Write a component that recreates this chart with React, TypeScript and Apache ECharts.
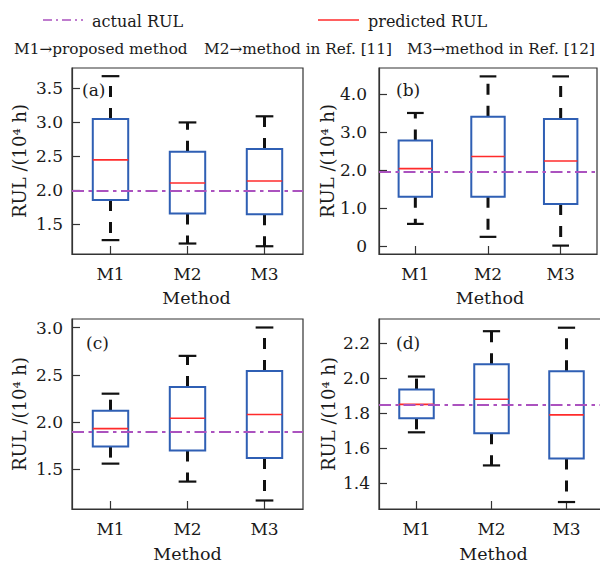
import React, { useEffect, useRef } from "react";
import * as echarts from "echarts";

// Methods on the x axis
const categories = ["M1", "M2", "M3"];

// Box statistics per method: [lower whisker, Q1, median, Q3, upper whisker] (10^4 h)
const boxesA = [
  [1.27, 1.86, 2.45, 3.05, 3.68],
  [1.22, 1.66, 2.11, 2.57, 3.0],
  [1.18, 1.65, 2.14, 2.61, 3.09],
];
const boxesB = [
  [0.59, 1.3, 2.04, 2.78, 3.5],
  [0.25, 1.3, 2.36, 3.4, 4.46],
  [0.02, 1.11, 2.24, 3.34, 4.46],
];
const boxesC = [
  [1.56, 1.74, 1.93, 2.12, 2.3],
  [1.37, 1.7, 2.04, 2.37, 2.7],
  [1.17, 1.62, 2.08, 2.54, 3.0],
];
const boxesD = [
  [1.69, 1.77, 1.85, 1.935, 2.01],
  [1.5, 1.685, 1.88, 2.08, 2.27],
  [1.29, 1.54, 1.79, 2.04, 2.29],
];

// Actual RUL of each case
const actualRUL = [2.0, 1.95, 1.9, 1.85];

// Y tick values of each panel
const ticksA = [1.5, 2.0, 2.5, 3.0, 3.5];
const ticksB = [0, 1, 2, 3, 4];
const ticksC = [1.5, 2.0, 2.5, 3.0];
const ticksD = [1.4, 1.6, 1.8, 2.0, 2.2];

// Y ranges of each panel
const rangeA = [1.066, 3.8];
const rangeB = [-0.2, 4.68];
const rangeC = [1.08, 3.09];
const rangeD = [1.25, 2.34];

const panelTags = ["(a)", "(b)", "(c)", "(d)"];

const FONT = "DejaVu Serif";
const TEXT = "#1a1a1a";
const AXIS = "#333";
const BOX = "#2f5fb4";
const MEDIAN = "#ff2b2b";
const ACTUAL = "#ab52bf";
const WHISKER = "#111";
const ACTUAL_DASH = [12, 4.5, 3.5, 4.5];

type Panel = {
  boxes: number[][];
  ticks: number[];
  range: number[];
  actual: number;
  grid: { left: number; top: number; width: number; height: number };
  yNameGap: number;
  yLabelMargin: number;
  xNameGap: number;
  xNamePad: number;
  fmt: (v: number) => string;
};

const oneDecimal = (v: number) => v.toFixed(1);

const panels: Panel[] = [
  {
    boxes: boxesA, ticks: ticksA, range: rangeA, actual: actualRUL[0],
    grid: { left: 72, top: 68, width: 231, height: 186 },
    yNameGap: 44, yLabelMargin: 9, xNameGap: 35, xNamePad: 18, fmt: oneDecimal,
  },
  {
    boxes: boxesB, ticks: ticksB, range: rangeB, actual: actualRUL[1],
    grid: { left: 379, top: 68, width: 218, height: 186 },
    yNameGap: 42, yLabelMargin: 12, xNameGap: 35, xNamePad: 4,
    fmt: (v: number) => (v === 0 ? "0" : v.toFixed(1)),
  },
  {
    boxes: boxesC, ticks: ticksC, range: rangeC, actual: actualRUL[2],
    grid: { left: 72, top: 319, width: 231, height: 190 },
    yNameGap: 44, yLabelMargin: 9, xNameGap: 36, xNamePad: 0, fmt: oneDecimal,
  },
  {
    boxes: boxesD, ticks: ticksD, range: rangeD, actual: actualRUL[3],
    grid: { left: 379, top: 319, width: 225, height: 190 },
    yNameGap: 42, yLabelMargin: 9, xNameGap: 36, xNamePad: 4, fmt: oneDecimal,
  },
];

// Box-and-whisker glyph drawn on the category/value scales
const renderBox = (params: any, api: any) => {
  const idx = api.value(0);
  const lo = api.value(1);
  const q1 = api.value(2);
  const med = api.value(3);
  const q3 = api.value(4);
  const hi = api.value(5);
  const cx = api.coord([idx, med])[0];
  const y = (v: number) => api.coord([idx, v])[1];
  const band = api.size([1, 0])[0];
  const bw = band * 0.46;
  const cw = band * 0.23;
  const whiskerStyle = { stroke: WHISKER, lineWidth: 3, lineDash: [11, 11], fill: null };
  const capStyle = { stroke: WHISKER, lineWidth: 2.2, fill: null };
  return {
    type: "group",
    children: [
      { type: "line", shape: { x1: cx, y1: y(q3), x2: cx, y2: y(hi) }, style: whiskerStyle },
      { type: "line", shape: { x1: cx, y1: y(q1), x2: cx, y2: y(lo) }, style: whiskerStyle },
      { type: "line", shape: { x1: cx - cw / 2, y1: y(hi), x2: cx + cw / 2, y2: y(hi) }, style: capStyle },
      { type: "line", shape: { x1: cx - cw / 2, y1: y(lo), x2: cx + cw / 2, y2: y(lo) }, style: capStyle },
      {
        type: "rect",
        shape: { x: cx - bw / 2, y: y(q3), width: bw, height: y(q1) - y(q3) },
        style: { fill: null, stroke: BOX, lineWidth: 2 },
      },
      {
        type: "line",
        shape: { x1: cx - bw / 2, y1: y(med), x2: cx + bw / 2, y2: y(med) },
        style: { stroke: MEDIAN, lineWidth: 1.6, fill: null },
      },
    ],
  };
};

const buildOption = () => {
  const grids = panels.map((p) => ({
    ...p.grid,
    show: true,
    borderColor: AXIS,
    borderWidth: 1.2,
    backgroundColor: "transparent",
    outerBoundsMode: "none",
  }));

  const xAxes = panels.map((p, i) => ({
    type: "category",
    gridIndex: i,
    data: categories,
    boundaryGap: true,
    name: "Method",
    nameLocation: "middle",
    nameGap: p.xNameGap,
    nameTextStyle: { fontFamily: FONT, fontSize: 17.5, color: TEXT, padding: [0, 0, 0, p.xNamePad] },
    axisLine: { show: true, onZero: false, lineStyle: { color: AXIS, width: 1.2 } },
    axisTick: { show: true, inside: true, alignWithLabel: true, length: 8, lineStyle: { color: AXIS, width: 1.2 } },
    axisLabel: { fontFamily: FONT, fontSize: 17, color: TEXT, margin: 11 },
    splitLine: { show: false },
  }));

  const yAxes = panels.map((p, i) => ({
    type: "value",
    gridIndex: i,
    min: p.range[0],
    max: p.range[1],
    name: "RUL /(10⁴ h)",
    nameLocation: "middle",
    nameGap: p.yNameGap,
    nameTextStyle: { fontFamily: FONT, fontSize: 18, color: TEXT },
    axisLine: { show: true, onZero: false, lineStyle: { color: AXIS, width: 1.2 } },
    axisTick: { show: true, inside: true, length: 8, customValues: p.ticks, lineStyle: { color: AXIS, width: 1.2 } },
    axisLabel: {
      fontFamily: FONT,
      fontSize: 17,
      color: TEXT,
      margin: p.yLabelMargin,
      customValues: p.ticks,
      formatter: (v: number) => p.fmt(v),
    },
    splitLine: { show: false },
  }));

  const series: any[] = [];
  panels.forEach((p, i) => {
    series.push({
      type: "custom",
      xAxisIndex: i,
      yAxisIndex: i,
      renderItem: renderBox,
      encode: { x: 0, y: [1, 2, 3, 4, 5] },
      data: p.boxes.map((b, k) => [k, ...b]),
      z: 2,
    });
    series.push({
      type: "line",
      xAxisIndex: i,
      yAxisIndex: i,
      data: [],
      markLine: {
        silent: true,
        symbol: ["none", "none"],
        label: { show: false },
        lineStyle: { color: ACTUAL, width: 2, type: ACTUAL_DASH },
        data: [{ yAxis: p.actual }],
        z: 5,
      },
    });
  });

  const tagPos = [
    [82, 90],
    [396, 90],
    [86, 343],
    [396, 343],
  ];

  const textStyle = (text: string, size = 16) => ({
    text,
    fontFamily: FONT,
    fontSize: size,
    fill: TEXT,
    verticalAlign: "middle",
  });

  const graphic: any[] = [
    { type: "line", shape: { x1: 43, y1: 20, x2: 83, y2: 20 }, style: { stroke: ACTUAL, lineWidth: 1.6, lineDash: [9, 4, 2, 4] } },
    { type: "text", x: 92, y: 21, style: textStyle("actual RUL") },
    { type: "line", shape: { x1: 318, y1: 20, x2: 359, y2: 20 }, style: { stroke: MEDIAN, lineWidth: 1.6 } },
    { type: "text", x: 368, y: 21, style: textStyle("predicted RUL") },
    { type: "text", x: 14, y: 49, style: textStyle("M1→proposed method", 15.3) },
    { type: "text", x: 204, y: 49, style: textStyle("M2→method in Ref. [11]", 15.3) },
    { type: "text", x: 407, y: 49, style: textStyle("M3→method in Ref. [12]", 15.3) },
    ...panelTags.map((t, i) => ({
      type: "text",
      x: tagPos[i][0],
      y: tagPos[i][1],
      z: 10,
      style: textStyle(t, 17),
    })),
  ];

  return {
    animation: false,
    backgroundColor: "#fff",
    grid: grids,
    xAxis: xAxes,
    yAxis: yAxes,
    series,
    graphic,
  };
};

export default function App() {
  const ref = useRef<HTMLDivElement>(null);
  useEffect(() => {
    if (!ref.current) return;
    const chart = echarts.init(ref.current, null, { renderer: "svg" });
    chart.setOption(buildOption() as any);
    return () => chart.dispose();
  }, []);
  return (
    <div
      ref={ref}
      style={{ position: "absolute", left: 0, top: 0, width: 600, height: 563 }}
    />
  );
}
